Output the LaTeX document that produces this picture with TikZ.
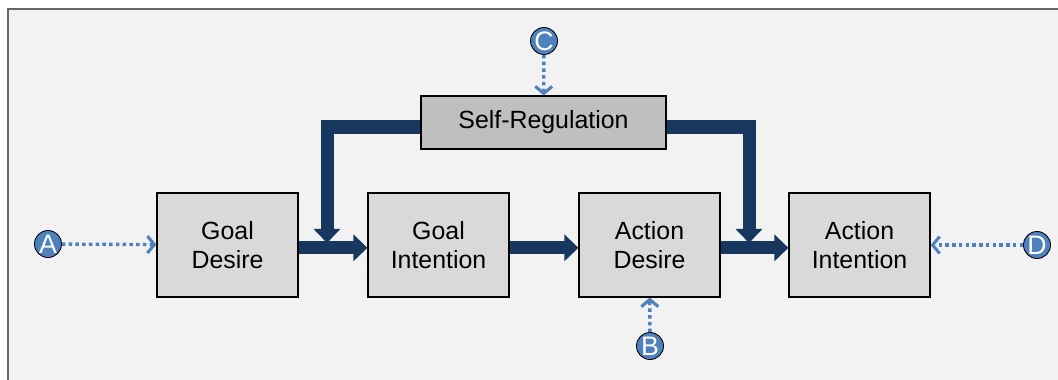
\documentclass[tikz,border=0pt]{standalone}
\usepackage{fontspec}
\setmainfont{Liberation Sans}
\usetikzlibrary{arrows.meta}
\definecolor{navy}{HTML}{17375E}
\definecolor{dotblue}{HTML}{4F81BD}
\definecolor{panel}{HTML}{F2F2F2}
\definecolor{boxgray}{HTML}{D9D9D9}
\definecolor{selfgray}{HTML}{BFBFBF}

\begin{document}
\begin{tikzpicture}[x=0.025cm,y=-0.025cm]
\useasboundingbox (0,0) rectangle (1058,380);
\clip (0,0) rectangle (1058,380);
%%%%%%%%%%%%%%%%%%%%%%%%%%%%%%%%%%%%%%%%%%%%%%%%%%%%%%%%%%%%%%
%BACKGROUND
\fill[white] (0,0) rectangle (1058,380);
\draw[fill=panel,draw=black!60,line width=1pt] (8,9) rectangle (1090,400);

%%%%%%%%%%%%%%%%%%%%%%%%%%%%%%%%%%%%%%%%%%%%%%%%%%%%%%%%%%%%%%
%boxes
%vars
\tikzstyle{box}=[draw=black,fill=boxgray,line width=0.8pt,minimum width=3.525cm,minimum height=2.6cm,align=center,font=\fontsize{17.7}{20.5}\selectfont]
\tikzstyle{box2}=[box,fill=selfgray,minimum width=6.125cm,minimum height=1.325cm]
\tikzstyle{letter}=[circle,draw=black,fill=dotblue,text=white,minimum size=0.675cm,inner sep=0pt,line width=0.6pt,font=\fontsize{19}{19}\selectfont]
\tikzstyle{bigarrow}=[draw=navy,line width=0.325cm,-{Triangle[width=0.65cm,length=0.35cm,fill=navy]}]
\tikzstyle{dotarrow}=[draw=dotblue,line width=2.4pt,dash pattern=on 2.4pt off 2.4pt,-{Straight Barb[length=5pt,width=12pt,line width=2.2pt]}]

%goal
\node[box] (goaldesire) at (227.5,245) {Goal\\Desire};
\node[box] (goalintention) at (438.5,245) {Goal\\Intention};
%action
\node[box] (actiondesire) at (649.5,245) {Action\\Desire};
\node[box] (actionintention) at (859.5,245) {Action\\Intention};
%self-regulation
\node[box2] (selfreg) at (543.5,122.5) {Self-Regulation};

%inputs
\node[letter] (inA) at (48,244) {A};
\node[letter] (inB) at (650,346) {B};
\node[letter] (inC) at (544,41) {C};
\node[letter] (inD) at (1037,245) {D};

%corners
\coordinate (turnL) at (327,127);
\coordinate (joinL) at (327,243);
\coordinate (turnR) at (749,127);
\coordinate (joinR) at (749,243);

%%%%%%%%%%%%%%%%%%%%%%%%%%%%%%%%%%%%%%%%%%%%%%%%%%%%%%%%%%%%%%
%ARROWS
%main chain
\draw[bigarrow] ([yshift=-2pt]goaldesire.east) -- ([yshift=-2pt]goalintention.west);
\draw[bigarrow] ([yshift=-2pt]goalintention.east) -- ([yshift=-2pt]actiondesire.west);
\draw[bigarrow] ([yshift=-2pt]actiondesire.east) -- ([yshift=-2pt]actionintention.west);
%feedback
\draw[bigarrow] (selfreg.west |- turnL) -- (turnL) -- (joinL);
\draw[bigarrow] (selfreg.east |- turnR) -- (turnR) -- (joinR);

%inputs
\draw[dotarrow] (inA) -- (goaldesire);
\draw[dotarrow] (inB) -- (actiondesire);
\draw[dotarrow] (inC) -- (selfreg);
\draw[dotarrow] (inD) -- (actionintention);
\end{tikzpicture}
\end{document}
